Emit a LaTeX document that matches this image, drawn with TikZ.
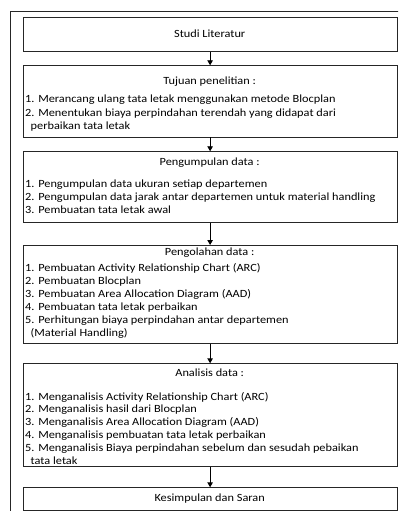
\documentclass[tikz,border=0pt]{standalone}
\usepackage{fontspec}
\setmainfont{Carlito}[FakeStretch=1.12]
\usetikzlibrary{arrows.meta}
\tikzset{
  box/.style={draw=black!85, line width=0.8bp, inner sep=0pt, anchor=north west, minimum width=374bp},
  item/.style={inner sep=0pt, anchor=base west, font=\fontsize{11bp}{13bp}\selectfont},
  head/.style={inner sep=0pt, anchor=base, font=\fontsize{11bp}{13bp}\selectfont},
  arr/.style={draw=black, line width=0.9bp, -{Triangle[width=5.5bp,length=5bp]}},
  frame/.style={draw=black!85, line width=0.8bp}
}
\begin{document}
\begin{tikzpicture}[x=1bp,y=-1bp]
\useasboundingbox (0,0) rectangle (398,511);
\begin{scope}
\clip (0,0) rectangle (398,511);
\draw[frame] (10.7,520) -- (10.7,11) -- (405,11);
\end{scope}
% boxes
\node[box, minimum height=33.7bp] (b1) at (22.7,17.3) {};
\node[box, minimum height=71.4bp] (b2) at (22.7,65.3) {};
\node[box, minimum height=70.4bp] (b3) at (22.7,151.3) {};
\node[box, minimum height=98.3bp] (b4) at (22.7,245) {};
\node[box, minimum height=102.7bp] (b5) at (22.7,363.3) {};
\node[box, minimum height=22.5bp] (b6) at (22.7,487.3) {};
% arrows
\draw[arr] (b1.south) -- (b2.north);
\draw[arr] (b2.south) -- (b3.north);
\draw[arr] (b3.south) -- (b4.north);
\draw[arr] (b4.south) -- (b5.north);
\draw[arr] (b5.south) -- (b6.north);
% box 1
\node[head] (h1) at (209.7,38) {Studi Literatur};
% box 2
\node[head] (h2) at (209.7,84.5) {Tujuan penelitian :};
\node[item] (t2a) at (25,103) {1. Merancang ulang tata letak menggunakan metode Blocplan};
\node[item] (t2b) at (25,116.1) {2. Menentukan biaya perpindahan terendah yang didapat dari};
\node[item] (t2c) at (30.5,129.2) {perbaikan tata letak};
% box 3
\node[head] (h3) at (209.7,166) {Pengumpulan data :};
\node[item] (t3a) at (25,187.5) {1. Pengumpulan data ukuran setiap departemen};
\node[item] (t3b) at (25,200.6) {2. Pengumpulan data jarak antar departemen untuk material handling};
\node[item] (t3c) at (25,213.7) {3. Pembuatan tata letak awal};
% box 4
\node[head] (h4) at (209.7,255) {Pengolahan data :};
\node[item] (t4a) at (25,271.3) {1. Pembuatan Activity Relationship Chart (ARC)};
\node[item] (t4b) at (25,284.4) {2. Pembuatan Blocplan};
\node[item] (t4c) at (25,297.5) {3. Pembuatan Area Allocation Diagram (AAD)};
\node[item] (t4d) at (25,310.6) {4. Pembuatan tata letak perbaikan};
\node[item] (t4e) at (25,323.7) {5. Perhitungan biaya perpindahan antar departemen};
\node[item] (t4f) at (30.5,336.8) {(Material Handling)};
% box 5
\node[head] (h5) at (209.7,376.5) {Analisis data :};
\node[item] (t5a) at (25,400) {1. Menganalisis Activity Relationship Chart (ARC)};
\node[item] (t5b) at (25,412.8) {2. Menganalisis hasil dari Blocplan};
\node[item] (t5c) at (25,425.6) {3. Menganalisis Area Allocation Diagram (AAD)};
\node[item] (t5d) at (25,438.4) {4. Menganalisis pembuatan tata letak perbaikan};
\node[item] (t5e) at (25,451.2) {5. Menganalisis Biaya perpindahan sebelum dan sesudah pebaikan};
\node[item] (t5f) at (30.5,464) {tata letak};
% box 6
\node[head] (h6) at (209.7,501) {Kesimpulan dan Saran};
\end{tikzpicture}
\end{document}
